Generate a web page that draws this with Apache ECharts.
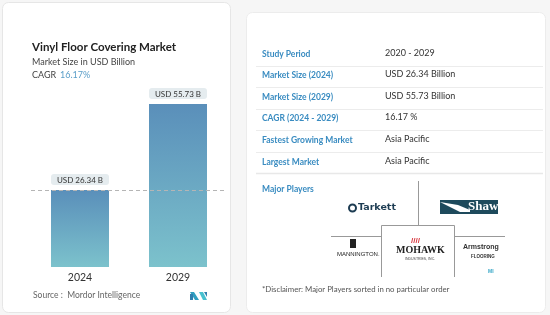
<!DOCTYPE html>
<html><head><meta charset="utf-8">
<script src="https://cdn.jsdelivr.net/npm/echarts@6/dist/echarts.min.js"></script>
<style>html,body{margin:0;padding:0;background:#f6f6f6;}#c{width:550px;height:315px;}</style>
</head><body><div id="c"></div>
<script>
const categories = ['2024', '2029'];
const values = [26.34, 55.73];
const valueLabels = ['USD 26.34 B', 'USD 55.73 B'];
const title = 'Vinyl Floor Covering Market';
const subtitle = 'Market Size in USD Billion';
const cagrLabel = 'CAGR';
const cagrValue = '16.17%';
const source = 'Source :  Mordor Intelligence';
const rowLabels = ['Study Period', 'Market Size (2024)', 'Market Size (2029)', 'CAGR (2024 - 2029)', 'Fastest Growing Market', 'Largest Market'];
const rowValues = ['2020 - 2029', 'USD 26.34 Billion', 'USD 55.73 Billion', '16.17 %', 'Asia Pacific', 'Asia Pacific'];
const playersTitle = 'Major Players';
const disclaimer = '*Disclaimer: Major Players sorted in no particular order';

const FONT = 'Lato, "Open Sans", sans-serif';
const chart = echarts.init(document.getElementById('c'));
const g = [];
// cards
g.push({type:'rect', shape:{x:2.5,y:2.5,width:228,height:310,r:6}, style:{fill:'#fff',stroke:'#e6e6e6',lineWidth:1}, z:-10});
g.push({type:'rect', shape:{x:246.5,y:12.5,width:299,height:300,r:6}, style:{fill:'#fff',stroke:'#ececec',lineWidth:1}, z:-10});
// left texts
g.push({type:'text', left:32, top:41, style:{text:title, font:'bold 11.5px '+FONT, fill:'#222'}});
g.push({type:'text', left:32, top:58, style:{text:subtitle, font:'9px '+FONT, fill:'#444'}});
g.push({type:'text', left:32, top:71, style:{text:cagrLabel, font:'9px '+FONT, fill:'#444'}});
g.push({type:'text', left:60, top:71, style:{text:cagrValue, font:'9px '+FONT, fill:'#5b9ec8'}});
g.push({type:'text', left:33, top:291, style:{text:source, font:'8.5px '+FONT, fill:'#666'}});
// MI logo
g.push({type:'polygon', shape:{points:[[190,292],[194,292],[199,300],[195,300]]}, style:{fill:'#2f9fc0'}});
g.push({type:'polygon', shape:{points:[[190,294],[193,294],[193,300],[190,300]]}, style:{fill:'#2f7fae'}});
g.push({type:'polygon', shape:{points:[[199,292],[203,292],[207,300],[203,300]]}, style:{fill:'#47c0cf'}});
g.push({type:'polygon', shape:{points:[[204,292],[207,292],[207,297]]}, style:{fill:'#2f7fae'}});
// table
const rowY = [55, 76, 98, 119, 141, 163];
rowLabels.forEach((t, i) => {
  g.push({type:'text', left:262, top:rowY[i]-5, style:{text:t, font:'bold 8.5px '+FONT, fill:'#3a8cc1'}});
  g.push({type:'text', left:385, top:rowY[i]-6, style:{text:rowValues[i], font:'9px '+FONT, fill:'#333'}});
  if (i < rowLabels.length - 1) {
    const y = Math.round((rowY[i] + rowY[i+1]) / 2) + 0.5;
    g.push({type:'line', shape:{x1:256,y1:y,x2:543,y2:y}, style:{stroke:'#ececec',lineWidth:1}});
  }
});
g.push({type:'line', shape:{x1:256,y1:173.5,x2:543,y2:173.5}, style:{stroke:'#e8e8e8',lineWidth:1.5}});
g.push({type:'text', left:262, top:185, style:{text:playersTitle, font:'bold 8.5px '+FONT, fill:'#3a8cc1'}});
// logo grid
g.push({type:'line', shape:{x1:418.5,y1:181,x2:418.5,y2:225}, style:{stroke:'#999',lineWidth:1}});
g.push({type:'line', shape:{x1:331,y1:236.5,x2:381,y2:236.5}, style:{stroke:'#999',lineWidth:1}});
g.push({type:'line', shape:{x1:455,y1:236.5,x2:505,y2:236.5}, style:{stroke:'#999',lineWidth:1}});
g.push({type:'polyline', shape:{points:[[381.5,277],[381.5,225.5],[454.5,225.5],[454.5,277]]}, style:{stroke:'#999',lineWidth:1,fill:null}});
// Tarkett
g.push({type:'circle', shape:{cx:352.5,cy:208,r:3.5}, style:{fill:'none',stroke:'#1d3c52',lineWidth:2}});
g.push({type:'text', left:358, top:203, style:{text:'Tarkett', font:'bold 9.5px "DejaVu Sans", sans-serif', fill:'#1d3c52'}});
// Shaw
g.push({type:'rect', shape:{x:440,y:200,width:58,height:14}, style:{fill:'#1e4a5c'}});
g.push({type:'polygon', shape:{points:[[440,202],[460,212],[470,212],[470,210],[458,205]]}, style:{fill:'#fff'}});
g.push({type:'text', left:468, top:200, style:{text:'Shaw', font:'bold 13px "Liberation Serif", serif', fill:'#fff'}});
// Mannington
g.push({type:'rect', shape:{x:350,y:239,width:6,height:9}, style:{fill:'#222'}});
g.push({type:'text', left:337, top:251, style:{text:'MANNINGTON.', font:'6px "Liberation Sans Narrow", sans-serif', fill:'#222'}});
// Mohawk
g.push({type:'text', left:411, top:237, style:{text:'////', font:'bold 8px sans-serif', fill:'#d6323a'}});
g.push({type:'text', left:396, top:245, style:{text:'MOHAWK', font:'bold 10px "Liberation Serif", serif', fill:'#222'}});
g.push({type:'text', left:405, top:257, style:{text:'INDUSTRIES, INC.', font:'3.5px sans-serif', fill:'#444'}});
// Armstrong
g.push({type:'text', left:463, top:244, style:{text:'Armstrong', font:'bold 7px sans-serif', fill:'#333'}});
g.push({type:'text', left:471, top:254, style:{text:'FLOORING', font:'bold 4.5px sans-serif', fill:'#333'}});
g.push({type:'text', left:488, top:269, style:{text:'MI', font:'bold 5px sans-serif', fill:'#3aa8c8'}});
// disclaimer
g.push({type:'text', left:262, top:285, style:{text:disclaimer, font:'7.8px '+FONT, fill:'#555'}});

chart.setOption({
  animation:false,
  textStyle:{fontFamily:FONT},
  grid:{left:31, right:323, top:91.6, bottom:48},
  xAxis:{type:'category', data:categories, axisLine:{show:false}, axisTick:{show:false},
    axisLabel:{color:'#333', fontSize:10.5, margin:5}},
  yAxis:{type:'value', min:0, max:60, show:false, splitLine:{show:false}},
  series:[{type:'bar', data:values, barWidth:58,
    itemStyle:{color:new echarts.graphic.LinearGradient(0,0,0,1,[{offset:0,color:'#5a8fba'},{offset:1,color:'#7cc2cc'}])},
    label:{show:true, position:'top', distance:5, formatter:p=>valueLabels[p.dataIndex],
      fontSize:8, color:'#333', backgroundColor:'#e5ecef', width:58, align:'center', padding:[2,0,1,0], borderRadius:3},
    markLine:{silent:true, symbol:'none', label:{show:false},
      lineStyle:{type:[4,3], color:'#b5b5b5', width:1},
      data:[{yAxis:values[0]}]}
  }],
  graphic:g
});
</script></body></html>
